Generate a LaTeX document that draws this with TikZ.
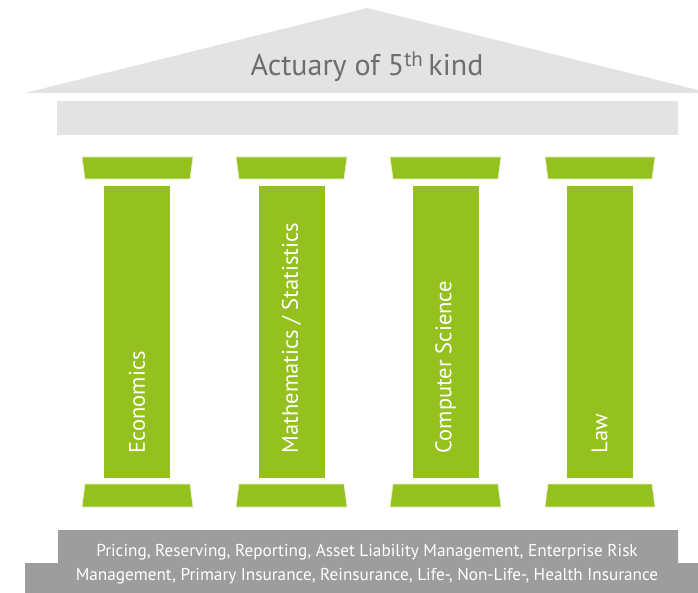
\documentclass[tikz,border=0pt]{standalone}
\usepackage{fontspec}
\setmainfont{PT Sans}
\usetikzlibrary{positioning, calc}
\definecolor{pillargreen}{HTML}{95C11F}
\definecolor{roofgray}{HTML}{E3E3E3}
\definecolor{basegray}{HTML}{9D9D9D}
\definecolor{titlegray}{HTML}{6E6E6E}
\tikzset{
	x=1pt, y=-1pt,
	roof/.style={fill=roofgray, draw=none},
	capital/.style={fill=pillargreen, draw=white!80!pillargreen, line width=0.6pt},
	shaft/.style={fill=pillargreen, draw=none, minimum width=66pt, minimum height=292pt, inner sep=0pt, anchor=north},
	pillar label/.style={white, font=\fontsize{22.5}{26}\selectfont, rotate=90, anchor=west, inner sep=0pt},
	stepbase/.style={fill=basegray, draw=none},
}

\begin{document}
\begin{tikzpicture}
	\useasboundingbox (0,0) rectangle (698,593);
	
	% roof and beam
	\fill[roof] (25,93) -- (367,8) -- (698,90) -- (698,93) -- cycle;
	\node[text=titlegray, font=\fontsize{30}{34}\selectfont] (title) at (367,67) {Actuary of 5\textsuperscript{th}\,kind};
	\fill[roof] (57,101) rectangle (678,135);
	
	% capitals
	\draw[capital] (82,157) -- (193,157) -- (190,179) -- (85,179) -- cycle;
	\draw[capital] (236,157) -- (347,157) -- (344,179) -- (239,179) -- cycle;
	\draw[capital] (390,157) -- (501,157) -- (498,179) -- (393,179) -- cycle;
	\draw[capital] (545,157) -- (655,157) -- (652,179) -- (548,179) -- cycle;
	
	% shafts
	\node[shaft] (econ) at (137,186) {};
	\node[shaft] (math) at (291.5,186) {};
	\node[shaft] (comp) at (445.5,186) {};
	\node[shaft] (law) at (599.5,186) {};
	\node[pillar label] (econ label) at ([yshift=25pt]econ.south) {Economics};
	\node[pillar label] (math label) at ([yshift=25pt]math.south) {Mathematics / Statistics};
	\node[pillar label] (comp label) at ([yshift=25pt]comp.south) {Computer Science};
	\node[pillar label] (law label) at ([yshift=25pt]law.south) {Law};
	
	% bases
	\draw[capital] (85,484) -- (190,484) -- (193,507) -- (82,507) -- cycle;
	\draw[capital] (239,484) -- (344,484) -- (347,507) -- (236,507) -- cycle;
	\draw[capital] (393,484) -- (498,484) -- (501,507) -- (390,507) -- cycle;
	\draw[capital] (548,484) -- (652,484) -- (655,507) -- (545,507) -- cycle;
	
	% steps
	\fill[stepbase] (58,530) -- (678,530) -- (678,563) -- (698,563) -- (698,593) -- (25,593) -- (25,563) -- (58,563) -- cycle;
	\node[white, align=center, font=\fontsize{17.2}{24}\selectfont] (fields) at (367,564) {Pricing, Reserving, Reporting, Asset Liability Management, Enterprise Risk\\Management, Primary Insurance, Reinsurance, Life-, Non-Life-, Health Insurance};
\end{tikzpicture}
\end{document}
